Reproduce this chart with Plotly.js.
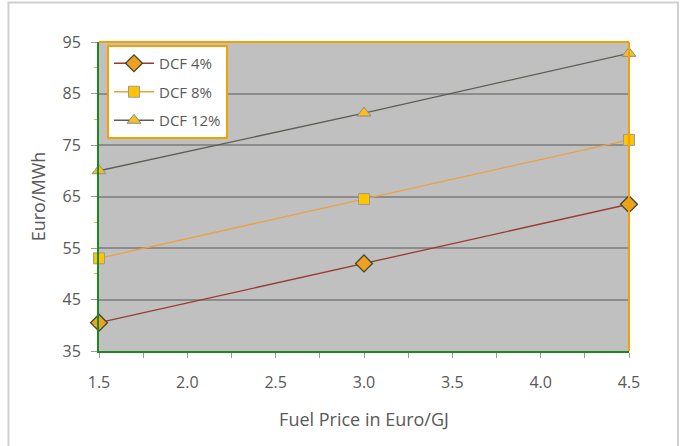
<!DOCTYPE html>
<html>
<head>
<meta charset="utf-8">
<script src="https://cdn.plot.ly/plotly-3.0.1.min.js"></script>
<style>html,body{margin:0;padding:0;background:#fff;}#chart{width:680px;height:446px;}</style>
</head>
<body>
<div id="chart"></div>
<script>
const fuelPrice = [1.5, 3.0, 4.5];
const dcf4 = [40.5, 52.0, 63.5];
const dcf8 = [53.0, 64.5, 76.0];
const dcf12 = [70.0, 81.2, 92.8];
const seriesNames = ['DCF 4%', 'DCF 8%', 'DCF 12%'];
const xTicks = [1.5, 2.0, 2.5, 3.0, 3.5, 4.0, 4.5];
const yTicks = [35, 45, 55, 65, 75, 85, 95];

const traces = [
  {x: fuelPrice, y: dcf4, name: seriesNames[0], legendgroup: 'a', mode: 'lines+markers', cliponaxis: false,
   line: {color: '#9a3a30', width: 1.3},
   marker: {symbol: 'diamond', size: 13, color: '#f0a020', line: {color: '#3a4a30', width: 1.3}}},
  {x: fuelPrice, y: dcf8, name: seriesNames[1], legendgroup: 'b', mode: 'lines+markers', cliponaxis: false,
   line: {color: '#eca040', width: 1.3},
   marker: {symbol: 'square', size: 11, color: '#ffc400', line: {color: '#9a9a9a', width: 1}}},
  {x: fuelPrice, y: dcf12, name: seriesNames[2], legendgroup: 'c', mode: 'lines+markers', cliponaxis: false,
   line: {color: '#5a5f55', width: 1.3},
   marker: {symbol: 'triangle-up', size: 12, color: '#f5c020', line: {color: '#8a8a8a', width: 1}}}
];

const W = 530, H = 309, L = 99, T = 42;
const px = v => (v - L) / W;
const py = v => (T + H - v) / H;

const layout = {
  width: 680, height: 446,
  margin: {l: 99, r: 51, t: 42, b: 95},
  paper_bgcolor: '#ffffff',
  plot_bgcolor: '#c0c0c0',
  font: {family: 'Open Sans, Liberation Sans, sans-serif', color: '#595959', size: 14},
  showlegend: true,
  legend: {x: px(107), y: py(45), xanchor: 'left', yanchor: 'top',
    bgcolor: '#ffffff', bordercolor: '#f5a000', borderwidth: 2,
    font: {size: 15, color: '#595959'}, tracegroupgap: 6, itemwidth: 40},
  xaxis: {
    range: [1.5, 4.5], tickvals: xTicks, ticktext: xTicks.map(v => v.toFixed(1)),
    showgrid: false, zeroline: false,
    showline: true, linecolor: '#1a8a1a', linewidth: 2,
    ticks: 'outside', ticklen: 5, tickcolor: '#9a9a9a', tickfont: {size: 16, color: '#595959'},
    ticklabelstandoff: 11,
    minor: {dtick: 0.25, tick0: 1.5, ticks: 'outside', ticklen: 5, tickcolor: '#9a9a9a'},
    title: {text: 'Fuel Price in Euro/GJ', font: {size: 18, color: '#595959'}, standoff: 21}
  },
  yaxis: {
    range: [35, 95], tickvals: yTicks,
    showgrid: true, gridcolor: '#8c8c8c', gridwidth: 2, zeroline: false,
    showline: true, linecolor: '#1a8a1a', linewidth: 2,
    ticks: 'outside', ticklen: 6, tickcolor: '#9a9a9a', tickfont: {size: 16, color: '#595959'},
    ticklabelstandoff: 7,
    minor: {dtick: 5, tick0: 35, ticks: 'outside', ticklen: 3, tickcolor: '#f0b040', showgrid: false},
    title: {text: 'Euro/MWh', font: {size: 18, color: '#595959'}, standoff: 12}
  },
  shapes: [
    {type: 'line', xref: 'paper', yref: 'paper', x0: 0, x1: 1, y0: 1, y1: 1,
     line: {color: '#f5a000', width: 2}},
    {type: 'line', xref: 'paper', yref: 'paper', x0: 1, x1: 1, y0: 0, y1: 1,
     line: {color: '#f5a000', width: 2}},
    {type: 'rect', xref: 'paper', yref: 'paper', x0: px(8.5), x1: px(678), y0: py(2.5), y1: py(460),
     line: {color: '#d0d0d0', width: 2}, layer: 'below'}
  ]
};

Plotly.newPlot('chart', traces, layout, {displayModeBar: false, staticPlot: true});
</script>
</body>
</html>
